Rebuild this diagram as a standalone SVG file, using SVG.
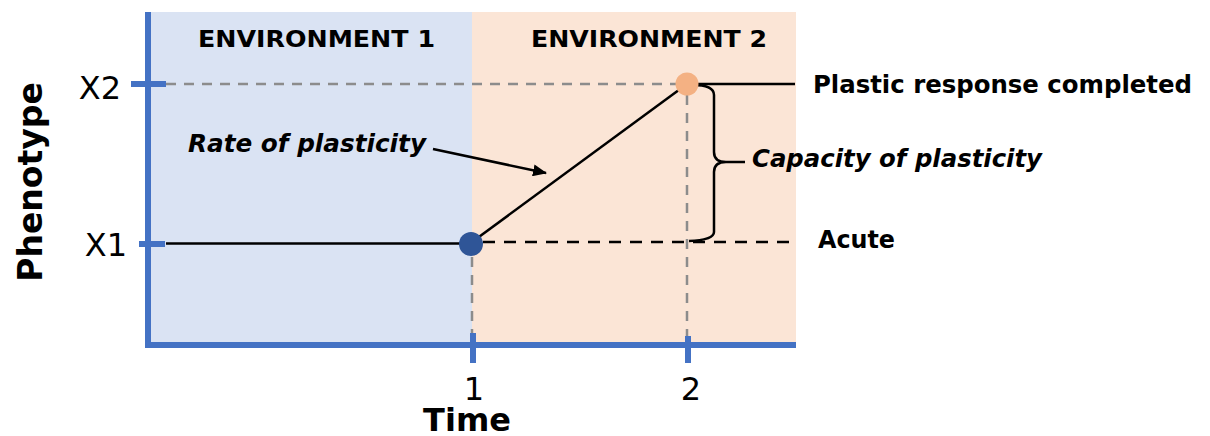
<svg xmlns="http://www.w3.org/2000/svg" width="1210" height="436" viewBox="0 0 1210 436">
<defs>
<style>
.t{font-family:"DejaVu Sans","Liberation Sans",sans-serif;fill:#000}
.b{font-weight:bold}
.i{font-style:italic}
.axis{stroke:#4472C4;stroke-width:6;fill:none}
.gd{stroke:#8C8C8C;stroke-width:2.5;stroke-dasharray:10 8;fill:none}
.bd{stroke:#000;stroke-width:2.5;stroke-dasharray:12 9;fill:none}
.ln{stroke:#000;stroke-width:2.5;fill:none}
</style>
<marker id="ah" markerWidth="14" markerHeight="12" refX="13" refY="6" orient="auto" markerUnits="userSpaceOnUse" viewBox="0 0 14 12">
<path d="M0,0 L14,6 L0,12 z" fill="#000"/>
</marker>
</defs>
<rect width="1210" height="436" fill="#fff"/>
<g id="panels">
<rect x="148" y="12" width="324" height="333" fill="#DAE3F3"/>
<rect x="472" y="12" width="324" height="333" fill="#FBE5D6"/>
</g>
<g id="guides">
<path class="gd" d="M166 84 H676"/>
<path class="gd" d="M472 257 V342"/>
<path class="gd" d="M687 95 V342"/>
</g>
<g id="axes">
<path class="axis" d="M148 12 V348 M145 345 H796"/>
<path class="axis" d="M131 84 H166 M139 244 H165 M473 333 V363 M688 336 V363"/>
</g>
<g id="connectors">
<path class="ln" d="M166 243.5 H470"/>
<path class="ln" d="M470 243.5 L687 84"/>
<path class="bd" d="M483 242 H796"/>
<path class="ln" d="M693 84 H795"/>
<path class="ln" d="M433 149 L546 173" marker-end="url(#ah)" stroke-width="3"/>
<path class="ln" d="M693 85 Q714 85 714 95 L714 152 Q714 162 726 162 L745 162 M726 162 Q714 162 714 172 L714 232 Q714 240 689 241" stroke-width="3"/>
</g>
<g id="dot1"><circle cx="471" cy="244" r="12" fill="#2F5597"/></g>
<g id="dot2"><circle cx="687" cy="84" r="11.5" fill="#F4B183"/></g>
<g id="labels">
<text class="t b" x="198" y="47" font-size="23" textLength="237" lengthAdjust="spacingAndGlyphs">ENVIRONMENT 1</text>
<text class="t b" x="531" y="47" font-size="23" textLength="236" lengthAdjust="spacingAndGlyphs">ENVIRONMENT 2</text>
<text class="t" x="121" y="99" font-size="32" text-anchor="end">X2</text>
<text class="t" x="127" y="256" font-size="32" text-anchor="end">X1</text>
<text class="t" x="474" y="400" font-size="32" text-anchor="middle">1</text>
<text class="t" x="691" y="400" font-size="32" text-anchor="middle">2</text>
<text class="t b" x="467" y="431" font-size="32" text-anchor="middle">Time</text>
<text class="t b" transform="translate(42,182) rotate(-90)" font-size="33" text-anchor="middle">Phenotype</text>
<text class="t b i" x="188" y="152" font-size="24" textLength="238" lengthAdjust="spacingAndGlyphs">Rate of plasticity</text>
<text class="t b i" x="752" y="167" font-size="24" textLength="290" lengthAdjust="spacingAndGlyphs">Capacity of plasticity</text>
<text class="t b" x="813" y="93" font-size="24" textLength="379" lengthAdjust="spacingAndGlyphs">Plastic response completed</text>
<text class="t b" x="818" y="248" font-size="24" textLength="77" lengthAdjust="spacingAndGlyphs">Acute</text>
</g>
</svg>
